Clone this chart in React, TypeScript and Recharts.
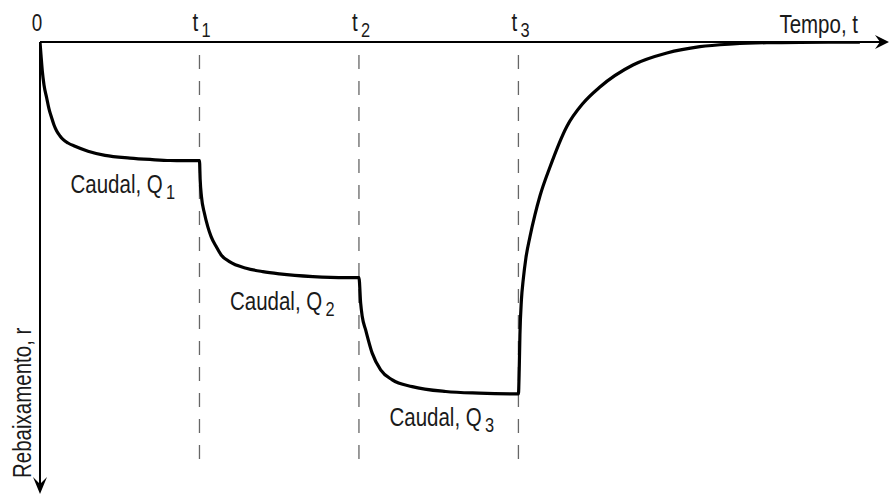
import { LineChart, Line, XAxis, YAxis, ReferenceLine, ReferenceDot } from "recharts";

// time in units of t1 (t1 = 1, t2 = 2, t3 = 3), drawdown r in units of the first plateau
const T_MAX = 5.33;
const R_MAX = 3.84;
const STEP_TIMES = [1, 2, 3];
const STEP_NAMES = ["1", "2", "3"];
const PLATEAUS = [1.01, 2.006, 2.996];
const DASH_RANGE = [0.11, 3.58];

const TIME = [
  0, 0.0063, 0.0144, 0.0251, 0.042, 0.0564, 0.0734, 0.0878, 0.1047, 0.1254, 0.146, 0.1756, 0.2195, 0.301,
  0.408, 0.564, 0.69, 0.815, 1.0,
  1.0044, 1.0125, 1.031, 1.052, 1.073, 1.105, 1.136, 1.188, 1.293, 1.397, 1.502, 1.711, 1.92, 2.0,
  2.0107, 2.0207, 2.042, 2.083, 2.136, 2.209, 2.334, 2.544, 2.753, 3.0,
  3.005, 3.0094, 3.0188, 3.03, 3.047, 3.072, 3.1035, 3.135, 3.198, 3.302, 3.407, 3.511, 3.718, 3.931, 4.138,
  4.345, 4.558, 4.765, 5.141,
];
const DRAWDOWN = [
  0, 0.111, 0.247, 0.366, 0.477, 0.57, 0.647, 0.707, 0.758, 0.8, 0.832, 0.86, 0.888, 0.93,
  0.965, 0.988, 1.0, 1.009, 1.01,
  1.174, 1.317, 1.458, 1.572, 1.657, 1.742, 1.813, 1.87, 1.926, 1.955, 1.974, 1.997, 2.006, 2.006,
  2.224, 2.338, 2.451, 2.649, 2.791, 2.877, 2.934, 2.976, 2.99, 2.996,
  2.791, 2.494, 2.196, 2.026, 1.838, 1.66, 1.472, 1.311, 1.064, 0.723, 0.519, 0.383, 0.196, 0.094, 0.04,
  0.017, 0.006, 0.003, 0.002,
];

const data = TIME.map((t, i) => ({ t, r: DRAWDOWN[i] }));

// no Arial Narrow here, so squeeze Liberation Sans sideways
const FONT = "'Liberation Sans', Arial, sans-serif";
const INK = "#1a1a1a";
const NARROW = 0.82;

const HAxis = (p: any) => {
  const { x1, y1, x2 } = p;
  const tip = x2 - 1;
  return (
    <g>
      <line x1={x1} y1={y1} x2={tip - 6} y2={y1} stroke="#000" strokeWidth={2} />
      <path d={`M${tip},${y1} L${tip - 14},${y1 - 7} L${tip - 9},${y1} L${tip - 14},${y1 + 7} Z`} fill="#000" />
    </g>
  );
};

const VAxis = (p: any) => {
  const { x1, y1, y2 } = p;
  const top = Math.min(y1, y2);
  const tip = Math.max(y1, y2) + 1;
  return (
    <g>
      <line x1={x1} y1={top} x2={x1} y2={tip - 6} stroke="#000" strokeWidth={2} />
      <path d={`M${x1},${tip} L${x1 - 7},${tip - 17} L${x1},${tip - 10} L${x1 + 7},${tip - 17} Z`} fill="#000" />
    </g>
  );
};

const NText = ({ x, y, rotate = 0, anchor = "start", size = 25, children }: any) => (
  <text
    transform={`translate(${x} ${y}) rotate(${rotate}) scale(${NARROW} 1)`}
    textAnchor={anchor}
    fontFamily={FONT}
    fontSize={size}
    fill={INK}
  >
    {children}
  </text>
);

const Sub = ({ x, y, main, sub }: any) => (
  <NText x={x} y={y}>
    <tspan>{main}</tspan>
    <tspan dx={4} dy={6} fontSize={20}>{sub}</tspan>
  </NText>
);

export default function App() {
  return (
    <div style={{ position: "absolute", left: 0, top: 0, background: "#fff" }}>
      <LineChart width={890} height={495} data={data} margin={{ top: 42, right: 0, bottom: 2, left: 40 }}>
        <XAxis type="number" dataKey="t" domain={[0, T_MAX]} hide allowDataOverflow />
        <YAxis type="number" domain={[0, R_MAX]} reversed hide allowDataOverflow />

        {STEP_TIMES.map((t) => (
          <ReferenceLine
            key={t}
            segment={[{ x: t, y: DASH_RANGE[0] }, { x: t, y: DASH_RANGE[1] }]}
            stroke="#666"
            strokeWidth={1.3}
            strokeDasharray="14 12"
          />
        ))}

        <ReferenceLine segment={[{ x: 0, y: 0 }, { x: T_MAX, y: 0 }]} shape={HAxis} />
        <ReferenceLine segment={[{ x: 0, y: 0 }, { x: 0, y: R_MAX }]} shape={VAxis} />

        <Line
          dataKey="r"
          type="monotone"
          stroke="#000"
          strokeWidth={3.2}
          dot={false}
          isAnimationActive={false}
        />

        <ReferenceDot
          x={0}
          y={0}
          r={0}
          shape={(p: any) => (
            <NText x={p.cx - 3} y={p.cy - 11} anchor="middle" size={23}>
              0
            </NText>
          )}
        />
        {STEP_TIMES.map((t, i) => (
          <ReferenceDot
            key={"t" + t}
            x={t}
            y={0}
            r={0}
            shape={(p: any) => <Sub x={p.cx - 7} y={p.cy - 11} main="t" sub={STEP_NAMES[i]} />}
          />
        ))}
        {STEP_TIMES.map((t, i) => (
          <ReferenceDot
            key={"q" + t}
            x={t}
            y={PLATEAUS[i]}
            r={0}
            shape={(p: any) => <Sub x={p.cx - 129} y={p.cy + 32.5} main="Caudal, Q" sub={STEP_NAMES[i]} />}
          />
        ))}
        <ReferenceDot
          x={T_MAX}
          y={0}
          r={0}
          shape={(p: any) => (
            <NText x={p.cx - 32} y={p.cy - 9} anchor="end">
              Tempo, t
            </NText>
          )}
        />
        <ReferenceDot
          x={0}
          y={R_MAX}
          r={0}
          shape={(p: any) => (
            <NText x={p.cx - 9} y={p.cy - 15} rotate={-90}>
              Rebaixamento, r
            </NText>
          )}
        />
      </LineChart>
    </div>
  );
}
